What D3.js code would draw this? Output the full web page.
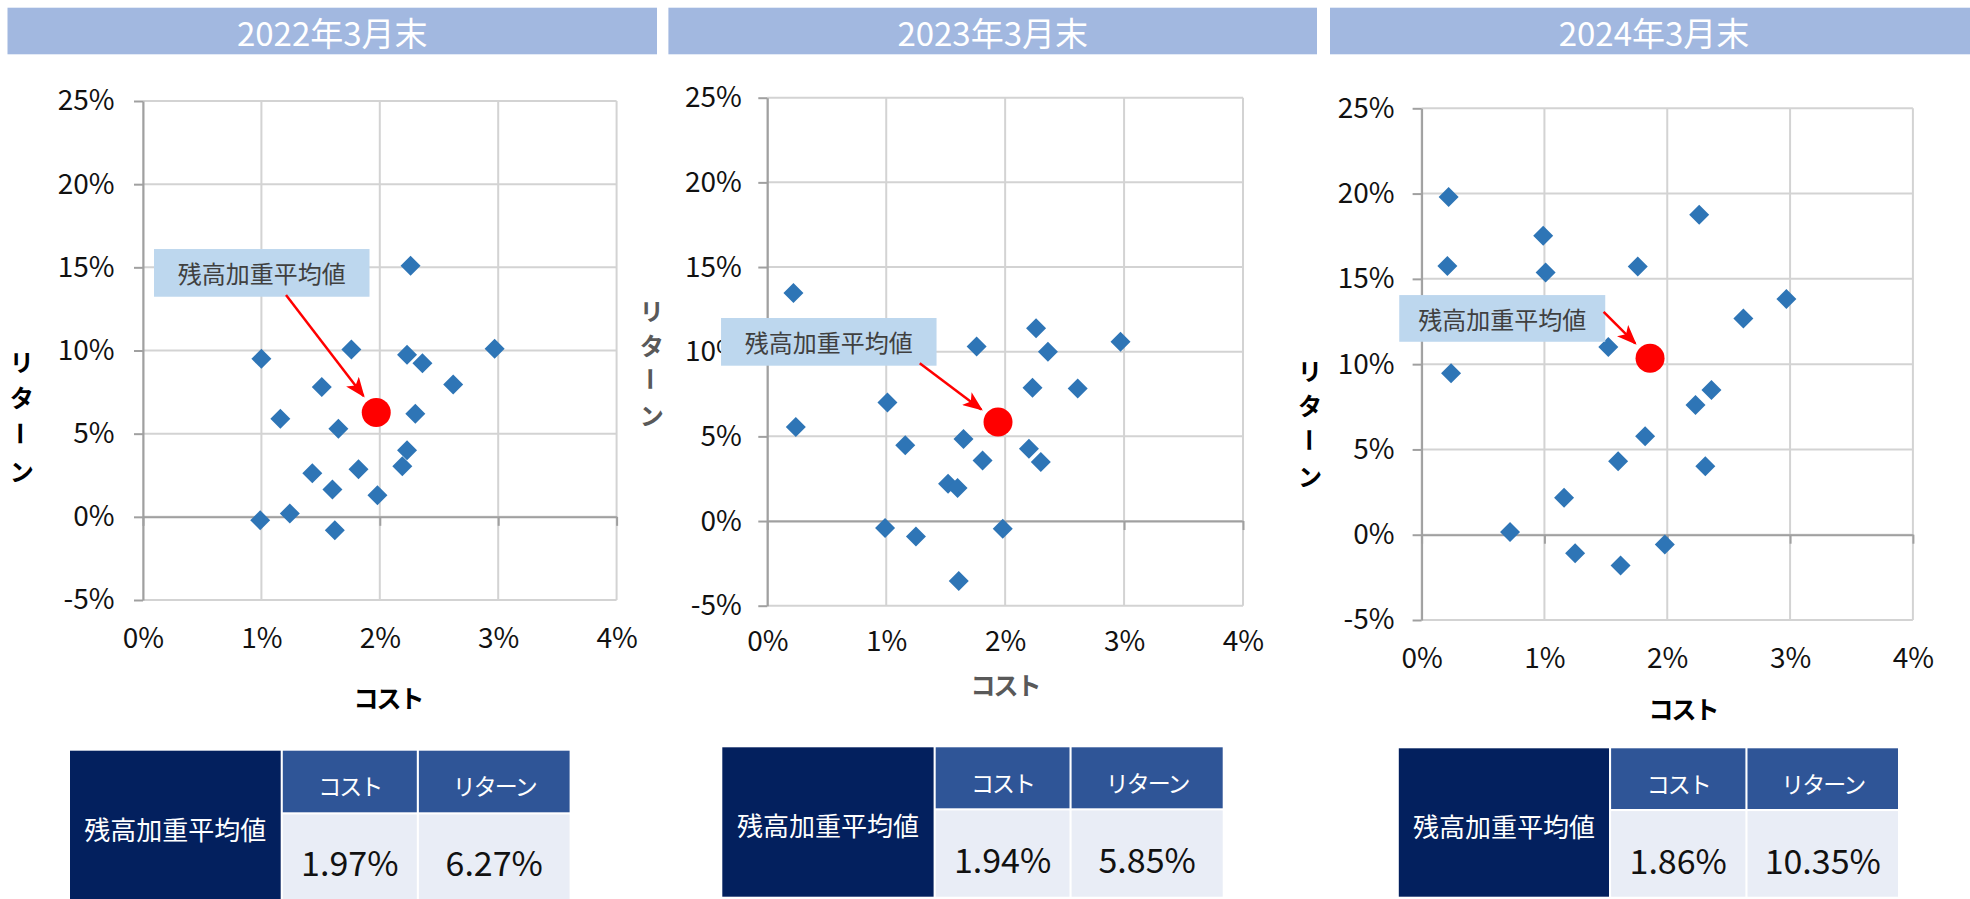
<!DOCTYPE html>
<html><head><meta charset="utf-8">
<script src="https://cdn.jsdelivr.net/npm/d3@7"></script>
<style>body{margin:0;background:#fff}svg{display:block}text{font-family:"Noto Sans CJK JP","Noto Sans",sans-serif}</style>
</head><body><svg id="c" width="1970" height="899"></svg>
<script>
// ---------- data ----------
const panelTitles = ["2022年3月末", "2023年3月末", "2024年3月末"];
const xTicks = [0, 1, 2, 3, 4];
const yTicks = [-5, 0, 5, 10, 15, 20, 25];
const xAxisTitle = "コスト";
const yAxisTitle = "リターン";
const avgLabel = "残高加重平均値";
const tableHeaders = ["コスト", "リターン"];

const cost2022 = [2.26, 1.00, 1.76, 2.23, 2.36, 2.97, 1.51, 2.62, 1.16, 1.65, 2.30, 2.23, 2.19, 1.43, 1.82, 1.60, 1.98, 0.99, 1.24, 1.62];
const ret2022  = [15.1, 9.5, 10.06, 9.74, 9.24, 10.1, 7.8, 7.96, 5.9, 5.3, 6.2, 4.0, 3.04, 2.62, 2.86, 1.64, 1.3, -0.2, 0.2, -0.8];
const cost2023 = [0.22, 0.24, 1.01, 1.76, 2.26, 2.36, 2.97, 2.23, 2.61, 1.65, 1.16, 2.20, 1.81, 2.30, 1.52, 1.60, 0.99, 1.25, 1.98, 1.61];
const ret2023  = [13.46, 5.55, 7.0, 10.3, 11.38, 10.0, 10.59, 7.87, 7.83, 4.84, 4.47, 4.27, 3.58, 3.48, 2.2, 1.95, -0.41, -0.91, -0.45, -3.54];
const cost2024 = [0.22, 0.21, 0.99, 1.01, 1.76, 2.26, 2.97, 2.62, 1.52, 0.24, 2.36, 2.23, 1.82, 1.60, 2.31, 1.16, 0.72, 1.25, 1.62, 1.98];
const ret2024  = [19.8, 15.75, 17.53, 15.37, 15.73, 18.76, 13.82, 12.67, 11.0, 9.47, 8.49, 7.6, 5.78, 4.3, 4.02, 2.17, 0.16, -1.09, -1.8, -0.57];

const avgCost   = [1.97, 1.94, 1.86];
const avgReturn = [6.27, 5.85, 10.35];
// annotation box anchor (top-left) in data units
const annotX = [0.093, -0.389, -0.182];
const annotY = [16.1, 11.99, 14.05];

const costs = [cost2022, cost2023, cost2024];
const rets = [ret2022, ret2023, ret2024];

// ---------- layout ----------
const layout = [
  {barL: 7.5, barR: 657, l: 143, r: 616.6, t: 101, b: 600, xlPad: 28, ylOff: 28.5,
   xt: [388, 697], xtColor: "#000", yt: [21.7, 360, 36.7], ytColor: "#000",
   ann: {w: 215.5, h: 47.7, ax: 132, ay: 46},
   tb: {l: 70, navW: 210.7, c1W: 134, c2W: 150.7, top: 750.7, hh: 61.6, bottom: 899}},
  {barL: 668.4, barR: 1317, l: 767.3, r: 1243, t: 97.7, b: 605.7, xlPad: 25, ylOff: 25.5,
   xt: [1005, 684], xtColor: "#595959", yt: [651.7, 309, 35], ytColor: "#595959",
   ann: {w: 215.5, h: 47.7, ax: 198.7, ay: 45.3},
   tb: {l: 722.3, navW: 211.3, c1W: 133.8, c2W: 151.1, top: 747.3, hh: 61, bottom: 896.7}},
  {barL: 1330, barR: 1970, l: 1421.6, r: 1912.9, t: 108.3, b: 620, xlPad: 28, ylOff: 27,
   xt: [1683, 708], xtColor: "#000", yt: [1310, 369, 35.5], ytColor: "#000",
   ann: {w: 206, h: 46.7, ax: 204.4, ay: 16.7},
   tb: {l: 1398.8, navW: 210.2, c1W: 134.3, c2W: 150.5, top: 748.3, hh: 60.7, bottom: 896.7}}
];

const svg = d3.select("#c");
const defs = svg.append("defs");
defs.append("marker").attr("id", "arr").attr("markerUnits", "userSpaceOnUse")
  .attr("viewBox", "0 0 20 16").attr("refX", 18).attr("refY", 8)
  .attr("markerWidth", 20).attr("markerHeight", 16).attr("orient", "auto")
  .append("path").attr("d", "M0,0 L20,8 L0,16 L5,8 Z").attr("fill", "#FF0000");

const GRID = "#D3D3D3", AXIS = "#A0A0A0";

layout.forEach((L, i) => {
  const g = svg.append("g");
  const x = d3.scaleLinear().domain([0, 4]).range([L.l, L.r]);
  const y = d3.scaleLinear().domain([-5, 25]).range([L.b, L.t]);

  // title bar
  g.append("rect").attr("x", L.barL).attr("y", 7.7).attr("width", L.barR - L.barL).attr("height", 46.6).attr("fill", "#A2B8E0");
  g.append("text").attr("x", (L.barL + L.barR) / 2 + (i === 2 ? 4 : 0)).attr("y", 31.5)
    .attr("text-anchor", "middle").attr("dominant-baseline", "central")
    .attr("fill", "#fff").attr("font-size", 33).text(panelTitles[i]);

  // gridlines
  g.selectAll(".vg").data(xTicks).join("line").attr("class", "vg")
    .attr("x1", d => x(d)).attr("x2", d => x(d)).attr("y1", y(25)).attr("y2", y(-5))
    .attr("stroke", GRID).attr("stroke-width", 2);
  g.selectAll(".hg").data(yTicks).join("line").attr("class", "hg")
    .attr("x1", x(0)).attr("x2", x(4)).attr("y1", d => y(d)).attr("y2", d => y(d))
    .attr("stroke", GRID).attr("stroke-width", 2);

  // y axis
  const ya = g.append("g").attr("transform", `translate(${x(0)},0)`)
    .call(d3.axisLeft(y).tickValues(yTicks).tickSize(9).tickSizeOuter(0).tickPadding(L.ylOff - 9).tickFormat(d => d + "%"));
  ya.select(".domain").attr("stroke", AXIS).attr("stroke-width", 2);
  ya.selectAll(".tick line").attr("stroke", AXIS).attr("stroke-width", 2);
  ya.selectAll("text").attr("font-size", 28).attr("fill", "#111").attr("font-family", null);

  // x axis line at 0%
  const xa = g.append("g").attr("transform", `translate(0,${y(0)})`)
    .call(d3.axisBottom(x).tickValues(xTicks).tickSize(9).tickSizeOuter(0).tickFormat(""));
  xa.select(".domain").attr("stroke", AXIS).attr("stroke-width", 2);
  xa.selectAll(".tick line").attr("stroke", AXIS).attr("stroke-width", 2);

  // x tick labels at bottom
  const xl = g.append("g").attr("transform", `translate(0,${y(-5)})`)
    .call(d3.axisBottom(x).tickValues(xTicks).tickSize(0).tickPadding(L.xlPad).tickFormat(d => d + "%"));
  xl.select(".domain").remove();
  xl.selectAll("text").attr("font-size", 28).attr("fill", "#111").attr("font-family", null);

  // axis titles
  g.append("text").attr("x", L.xt[0]).attr("y", L.xt[1]).attr("text-anchor", "middle")
    .attr("dominant-baseline", "central").attr("font-size", 25).attr("font-weight", 700)
    .attr("letter-spacing", -2).attr("fill", L.xtColor).text(xAxisTitle);
  // vertical (stacked) y title; the long-vowel mark is turned upright as in vertical writing
  const yt = g.append("text").attr("font-size", 24).attr("font-weight", 700).attr("fill", L.ytColor)
    .attr("text-anchor", "middle").attr("dominant-baseline", "central");
  Array.from(yAxisTitle).forEach((ch, k) => {
    const cy = L.yt[1] + k * L.yt[2];
    g.append("text").attr("x", L.yt[0]).attr("y", cy)
      .attr("font-size", 24).attr("font-weight", 700).attr("fill", L.ytColor)
      .attr("text-anchor", "middle").attr("dominant-baseline", "central")
      .attr("transform", ch === "ー" ? `rotate(90,${L.yt[0]},${cy})` : null)
      .text(ch);
  });
  yt.remove();

  // points
  const pts = costs[i].map((c, k) => ({c, r: rets[i][k]}));
  g.selectAll(".pt").data(pts).join("path").attr("class", "pt")
    .attr("d", d3.symbol().type(d3.symbolSquare).size(200))
    .attr("transform", d => `translate(${x(d.c)},${y(d.r)}) rotate(45)`)
    .attr("fill", "#2E75B6");

  // annotation box
  const bx = x(annotX[i]), by = y(annotY[i]);
  g.append("rect").attr("x", bx).attr("y", by).attr("width", L.ann.w).attr("height", L.ann.h).attr("fill", "#BDD7EE");
  g.append("text").attr("x", bx + L.ann.w / 2).attr("y", by + L.ann.h / 2)
    .attr("text-anchor", "middle").attr("dominant-baseline", "central")
    .attr("font-size", 24).attr("fill", "#404040").text(avgLabel);

  // average marker + arrow
  const cx = x(avgCost[i]), cy = y(avgReturn[i]);
  const sx = bx + L.ann.ax, sy = by + L.ann.ay;
  const dx = cx - sx, dy = cy - sy, len = Math.hypot(dx, dy);
  const tx = cx - dx / len * 21, ty = cy - dy / len * 21;
  g.append("line").attr("x1", sx).attr("y1", sy).attr("x2", tx).attr("y2", ty)
    .attr("stroke", "#FF0000").attr("stroke-width", 2.5).attr("marker-end", "url(#arr)");
  g.append("circle").attr("cx", cx).attr("cy", cy).attr("r", 14.5).attr("fill", "#FF0000");

  // table
  const T = L.tb, gap = 2.1;
  const c1x = T.l + T.navW + gap, c2x = c1x + T.c1W + gap;
  const vTop = T.top + T.hh + gap;
  g.append("rect").attr("x", T.l).attr("y", T.top).attr("width", T.navW).attr("height", T.bottom - T.top).attr("fill", "#03205E");
  g.append("text").attr("x", T.l + T.navW / 2).attr("y", T.top + 77.6).attr("text-anchor", "middle")
    .attr("dominant-baseline", "central").attr("font-size", 26).attr("fill", "#fff").text(avgLabel);
  const cols = [{x: c1x, w: T.c1W, h: tableHeaders[0], v: avgCost[i].toFixed(2) + "%"},
                {x: c2x, w: T.c2W, h: tableHeaders[1], v: avgReturn[i].toFixed(2) + "%"}];
  cols.forEach(c => {
    g.append("rect").attr("x", c.x).attr("y", T.top).attr("width", c.w).attr("height", T.hh).attr("fill", "#2F5597");
    g.append("rect").attr("x", c.x).attr("y", vTop).attr("width", c.w).attr("height", T.bottom - vTop).attr("fill", "#E9EDF6");
    g.append("text").attr("x", c.x + c.w / 2).attr("y", T.top + 34.4).attr("text-anchor", "middle")
      .attr("dominant-baseline", "central").attr("font-size", 23).attr("letter-spacing", -2).attr("fill", "#fff").text(c.h);
    g.append("text").attr("x", c.x + c.w / 2).attr("y", T.top + 111).attr("text-anchor", "middle")
      .attr("dominant-baseline", "central").attr("font-size", 34).attr("fill", "#111").text(c.v);
  });
});
</script></body></html>
